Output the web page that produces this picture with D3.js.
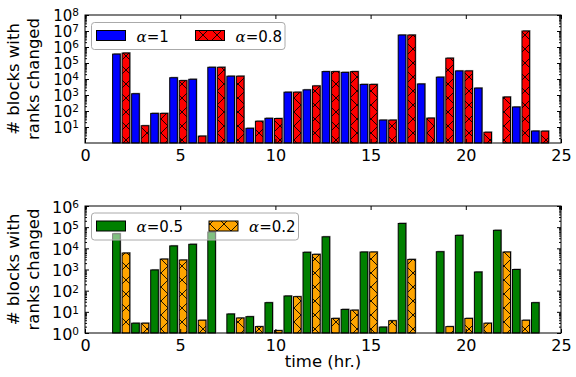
<!DOCTYPE html>
<html lang="en">
<head>
    <meta charset="UTF-8">
    <title>blocks with ranks changed</title>
    <script src="https://d3js.org/d3.v7.min.js"></script>
    <style>
        body { margin: 0; background: #fff; }
        text { font-family: "DejaVu Sans", sans-serif; fill: #000; }
        .tick text { font-size: 16px; }
        .axis path, .axis line { stroke: #000; }
        .leg text { font-size: 15px; }
    </style>
</head>
<body>
    <svg width="576" height="377"></svg>
    <script>
        // hour index of each bar pair
        var hours = d3.range(1, 24);

        // top panel
        var alpha1  = [3.6e5, 1.2e3, 71, 1.2e4, 9.6e3, 5.4e4, 1.5e4, 8.3, 35, 1.5e3, 2.1e3, 2.9e4,
                       2.6e4, 4.6e3, 27, 5.6e6, 4.9e3, 1.3e4, 3.2e4, 2.7e3, 0, 178, 5.6];
        var alpha08 = [4.2e5, 12, 71, 7.9e3, 2.7, 5.4e4, 1.5e4, 23, 34, 1.5e3, 3.7e3, 2.9e4,
                       2.9e4, 4.6e3, 27, 5.6e6, 36, 2.0e5, 3.2e4, 4.7, 750, 1e7, 5.5];

        // bottom panel
        var alpha05 = [4.9e4, 2.9, 950, 1.3e4, 1.55e4, 5.9e4, 7.9, 5.9, 27, 56, 6.5e3, 3.5e4,
                       13, 6.7e3, 1.9, 1.5e5, 0, 6.9e3, 4.1e4, 760, 7.1e4, 1.0e3, 27];
        var alpha02 = [6.0e3, 2.9, 3.1e3, 2.8e3, 4, 0, 5.1, 2.0, 1.3, 52, 5.2e3, 4.9,
                       12, 6.7e3, 3.8, 3.0e3, 0, 2.0, 4.9, 2.9, 6.7e3, 4.0, 0];

        var xTicks = [0, 5, 10, 15, 20, 25];
        var topExp = [1, 2, 3, 4, 5, 6, 7, 8];
        var botExp = [0, 1, 2, 3, 4, 5, 6];

        var svg = d3.select("svg");
        var defs = svg.append("defs");

        ["red", "orange"].forEach(function(c) {
            var p = defs.append("pattern")
                .attr("id", "hatch-" + c)
                .attr("patternUnits", "userSpaceOnUse")
                .attr("width", 14).attr("height", 14);
            p.append("rect").attr("width", 14).attr("height", 14).attr("fill", c);
            p.append("path")
                .attr("d", "M0,0L14,14M14,0L0,14M-1,13L1,15M13,-1L15,1")
                .attr("stroke", "#000").attr("stroke-width", 0.9).attr("fill", "none");
        });

        var x = d3.scaleLinear().domain([0, 25]).range([85, 561]);

        function panel(cfg) {
            var y = d3.scaleLog().domain([1, cfg.max]).range([cfg.bottom, cfg.top]);
            var g = svg.append("g");
            var minor = [];
            for (var e = 0; e < Math.log10(cfg.max); e++)
                for (var m = 2; m < 10; m++) minor.push(m * Math.pow(10, e));

            cfg.series.forEach(function(s) {
                var bars = g.append("g").selectAll("g")
                    .data(hours.map(function(h, i) { return {h: h, v: s.values[i]}; })
                        .filter(function(d) { return d.v >= 1; }))
                    .enter().append("g");
                bars.append("rect")
                    .attr("x", function(d) { return x(d.h + s.off) + 1; })
                    .attr("y", function(d) { return y(d.v) - 1; })
                    .attr("width", x(0.4) - x(0))
                    .attr("height", function(d) { return cfg.bottom - y(d.v); })
                    .attr("fill", "#9a9a9a");
                bars.append("rect")
                    .attr("x", function(d) { return x(d.h + s.off); })
                    .attr("y", function(d) { return y(d.v); })
                    .attr("width", x(0.4) - x(0))
                    .attr("height", function(d) { return cfg.bottom - y(d.v); })
                    .attr("fill", s.fill)
                    .attr("stroke", "#000").attr("stroke-width", 1);
            });

            // frame
            g.append("rect")
                .attr("x", x(0)).attr("y", cfg.top)
                .attr("width", x(25) - x(0)).attr("height", cfg.bottom - cfg.top)
                .attr("fill", "none").attr("stroke", "#000");

            // x axes (ticks inside)
            g.append("g").attr("class", "axis")
                .attr("transform", "translate(0," + cfg.bottom + ")")
                .call(d3.axisBottom(x).tickValues(xTicks).tickSize(-4).tickPadding(7)
                    .tickFormat(d3.format("d")))
                .call(function(a) { a.select(".domain").remove(); });
            g.append("g").attr("class", "axis")
                .attr("transform", "translate(0," + cfg.top + ")")
                .call(d3.axisTop(x).tickValues(xTicks).tickSize(-4).tickFormat(""))
                .call(function(a) { a.select(".domain").remove(); });

            // y axes
            var majors = cfg.exps.map(function(e) { return Math.pow(10, e); });
            var left = g.append("g").attr("class", "axis")
                .attr("transform", "translate(" + x(0) + ",0)")
                .call(d3.axisLeft(y).tickValues(majors).tickSize(-4).tickPadding(6)
                    .tickFormat(""))
                .call(function(a) { a.select(".domain").remove(); });
            left.selectAll(".tick").each(function(d) {
                var t = d3.select(this).append("text")
                    .attr("x", -6).attr("dy", "0.38em")
                    .attr("text-anchor", "end").style("font-size", cfg.tickFont + "px");
                t.append("tspan").text("10");
                t.append("tspan").attr("dy", "-0.45em").style("font-size", "10.5px")
                    .text(Math.round(Math.log10(d)));
            });
            g.append("g").attr("class", "axis")
                .attr("transform", "translate(" + x(25) + ",0)")
                .call(d3.axisRight(y).tickValues(majors).tickSize(-4).tickFormat(""))
                .call(function(a) { a.select(".domain").remove(); });
            g.append("g").attr("class", "axis")
                .attr("transform", "translate(" + x(0) + ",0)")
                .call(d3.axisLeft(y).tickValues(minor).tickSize(-2).tickFormat(""))
                .call(function(a) { a.select(".domain").remove(); });
            g.append("g").attr("class", "axis")
                .attr("transform", "translate(" + x(25) + ",0)")
                .call(d3.axisRight(y).tickValues(minor).tickSize(-2).tickFormat(""))
                .call(function(a) { a.select(".domain").remove(); });

            // y label
            var cy = (cfg.top + cfg.bottom) / 2;
            var lab = g.append("text")
                .attr("transform", "translate(19," + cy + ") rotate(-90)")
                .attr("text-anchor", "middle").style("font-size", "16.5px");
            lab.append("tspan").attr("x", 0).attr("y", 0).text("# blocks with");
            lab.append("tspan").attr("x", 0).attr("y", 20).text("ranks changed");

            // legend
            var L = cfg.legend;
            var leg = g.append("g").attr("class", "leg");
            leg.append("rect")
                .attr("x", L.x).attr("y", L.y).attr("width", L.w).attr("height", 27)
                .attr("rx", 3).attr("fill", "#fff").attr("fill-opacity", 0.5)
                .attr("stroke", "#aaa").attr("stroke-width", 1);
            cfg.series.forEach(function(s, i) {
                var px = L.x + 5 + i * L.step;
                leg.append("rect")
                    .attr("x", px).attr("y", L.y + 8).attr("width", 29).attr("height", 10)
                    .attr("fill", s.fill).attr("stroke", "#000");
                var t = leg.append("text").attr("x", px + 40).attr("y", L.y + 19);
                t.append("tspan").style("font-family", "DejaVu Serif, serif")
                    .style("font-style", "italic").text("\u03b1");
                t.append("tspan").text("=" + s.label);
            });
        }

        panel({
            top: 15, bottom: 143, max: 1e8, exps: topExp, tickFont: 15,
            series: [
                {values: alpha1, off: 0.45, fill: "#0000ff", label: "1"},
                {values: alpha08, off: 0.95, fill: "url(#hatch-red)", label: "0.8"}
            ],
            legend: {x: 91.5, y: 22.5, w: 193.5, step: 99}
        });

        panel({
            top: 206, bottom: 333, max: 1e6, exps: botExp, tickFont: 16,
            series: [
                {values: alpha05, off: 0.45, fill: "#008000", label: "0.5"},
                {values: alpha02, off: 0.95, fill: "url(#hatch-orange)", label: "0.2"}
            ],
            legend: {x: 91.5, y: 213, w: 207, step: 112.5}
        });

        svg.append("text")
            .attr("x", x(12.5)).attr("y", 367)
            .attr("text-anchor", "middle").style("font-size", "16.5px")
            .text("time (hr.)");
    </script>
</body>
</html>
